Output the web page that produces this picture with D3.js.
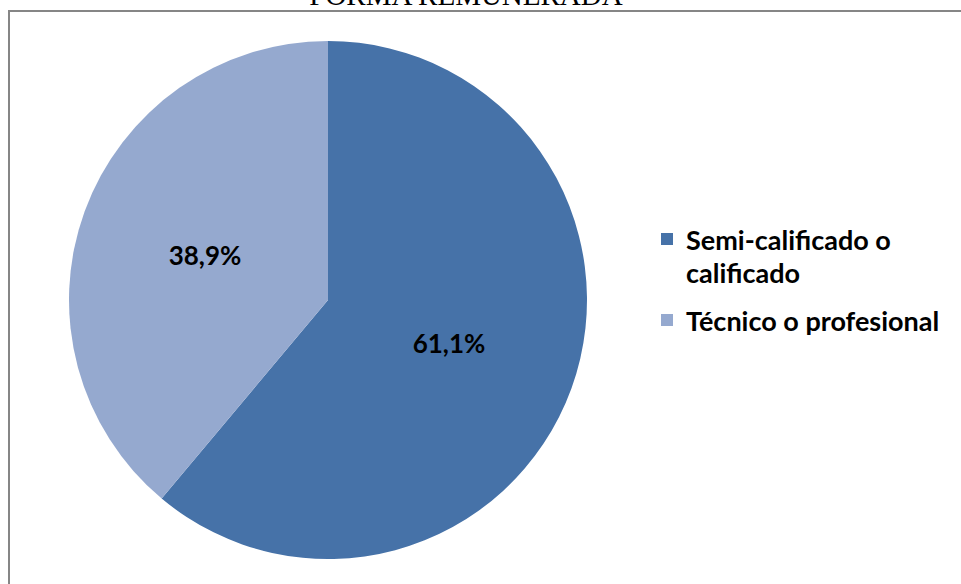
<!DOCTYPE html>
<html><head><meta charset="utf-8">
<script src="https://cdn.jsdelivr.net/npm/d3@7"></script>
<style>html,body{margin:0;padding:0;background:#fff;overflow:hidden}</style>
</head><body>
<svg id="chart" width="961" height="584"></svg>
<script>
const categories = ["Semi-calificado o calificado", "Técnico o profesional"];
const legendLines = [["Semi-calificado o", "calificado"], ["Técnico o profesional"]];
const values = [61.1, 38.9];
const valueLabels = ["61,1%", "38,9%"];
const colors = ["#4672A8", "#95A9CF"];
const titleText = "FORMA REMUNERADA";

const svg = d3.select("#chart");
svg.append("rect").attr("width", 961).attr("height", 584).attr("fill", "#fff");

// title (cut off at top, as in the reference)
svg.append("text").attr("x", 466).attr("y", 5).attr("text-anchor", "middle")
  .attr("font-family", "'Liberation Serif','Times New Roman',serif").attr("font-size", 29)
  .attr("fill", "#000").text(titleText);

// frame
svg.append("rect").attr("x", 9).attr("y", 11).attr("width", 1000).attr("height", 700)
  .attr("fill", "none").attr("stroke", "#868686").attr("stroke-width", 2);

const cx = 328, cy = 300, r = 259;
const pie = d3.pie().sort(null).value(d => d)(values);
const arc = d3.arc().innerRadius(0).outerRadius(r);
const g = svg.append("g").attr("transform", `translate(${cx},${cy})`);
g.selectAll("path").data(pie).join("path")
  .attr("d", arc).attr("fill", (d, i) => colors[i]);

const labelPos = [[449, 353], [205, 265]];
g.selectAll("text.lbl").data(pie).join("text").attr("class", "lbl")
  .attr("x", (d, i) => labelPos[i][0] - cx)
  .attr("y", (d, i) => labelPos[i][1] - cy)
  .attr("text-anchor", "middle")
  .attr("font-family", "Lato, 'Open Sans', sans-serif").attr("font-weight", "bold")
  .attr("font-size", 26).attr("fill", "#000")
  .text((d, i) => valueLabels[i]);

// legend
const legY = [250, 331];
const leg = svg.append("g");
categories.forEach((c, i) => {
  leg.append("rect").attr("x", 661).attr("y", legY[i] - 17).attr("width", 12).attr("height", 12)
    .attr("fill", colors[i]);
  const t = leg.append("text").attr("x", 686).attr("y", legY[i])
    .attr("font-family", "Lato, 'Open Sans', sans-serif").attr("font-weight", "bold")
    .attr("font-size", 27).attr("fill", "#000");
  legendLines[i].forEach((ln, j) => {
    t.append("tspan").attr("x", 686).attr("dy", j === 0 ? 0 : 33).text(ln);
  });
});
</script>
</body></html>
